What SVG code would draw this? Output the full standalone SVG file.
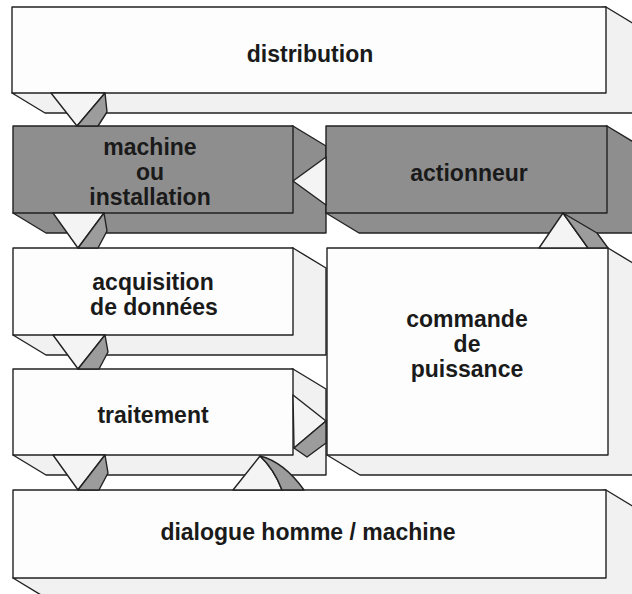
<svg xmlns="http://www.w3.org/2000/svg" width="632" height="594" viewBox="0 0 632 594">
<style>
.ln{stroke:#222;stroke-width:1.4;stroke-linejoin:round}
.front{fill:#fdfdfd}
.shw{fill:#f1f1f1}
.gfront{fill:#8e8e8e}
.gshw{fill:#8e8e8e}
.tri{fill:#f4f4f4}
.facet{fill:#9c9c9c}
text{font-family:"Liberation Sans",Arial,Helvetica,sans-serif;font-weight:bold;font-size:23px;fill:#1a1a1a;text-anchor:middle}
</style>
<rect width="632" height="594" fill="#ffffff"/>
<g id="distribution">
<polygon class="shw ln" points="12,93 45,113 639,113 639,27 606,7"/>
<rect class="front ln" x="12" y="7" width="594" height="86"/>
<text x="310" y="62">distribution</text>
</g>
<g id="machine">
<polygon class="gshw ln" points="13,213 46,233 326,233 326,146 293,126"/>
<rect class="gfront ln" x="13" y="126" width="280" height="87"/>
<text x="150" y="155">machine</text>
<text x="150" y="180">ou</text>
<text x="150" y="205">installation</text>
</g>
<g id="actionneur">
<polygon class="gshw ln" points="326,213 359,233 640,233 640,146 607,126"/>
<rect class="gfront ln" x="326" y="126" width="281" height="87"/>
<text x="469" y="181">actionneur</text>
</g>
<g id="acquisition">
<polygon class="shw ln" points="13,335 46,355 326,355 326,268 293,248"/>
<rect class="front ln" x="13" y="248" width="280" height="87"/>
<text x="153" y="290">acquisition</text>
<text x="154" y="315">de données</text>
</g>
<g id="commande">
<polygon class="shw ln" points="327,455 360,475 641,475 641,268 608,248"/>
<rect class="front ln" x="327" y="248" width="281" height="207"/>
<text x="467" y="327">commande</text>
<text x="467" y="352">de</text>
<text x="467" y="377">puissance</text>
</g>
<g id="traitement">
<polygon class="shw ln" points="13,455 46,475 326,475 326,389 293,369"/>
<rect class="front ln" x="13" y="369" width="280" height="86"/>
<text x="153" y="423">traitement</text>
</g>
<g id="dialogue">
<polygon class="shw ln" points="13,578 46,598 639,598 639,510 606,490"/>
<rect class="front ln" x="13" y="490" width="593" height="88"/>
<text x="308" y="540">dialogue homme / machine</text>
</g>
<g id="connectors">
<polygon class="tri ln" points="51,93 105,93 77,126"/>
<polygon class="facet ln" points="105,93 107,112 98,126 77,126"/>
<polygon class="tri ln" points="53,213 104,213 78,248"/>
<polygon class="facet ln" points="104,213 107,231 98,248 78,248"/>
<polygon class="tri ln" points="53,335 105,335 78,369"/>
<polygon class="facet ln" points="105,335 108,352 99,369 78,369"/>
<polygon class="tri ln" points="53,455 105,455 78,490"/>
<polygon class="facet ln" points="105,455 108,473 99,490 78,490"/>
<path class="tri ln" d="M260,456 L233,490 L282,490 Q274,469 260,456 Z"/>
<path class="facet ln" d="M260,456 Q284,462 304,490 L282,490 Q274,469 260,456 Z"/>
<polygon class="tri ln" points="563,213 539,248 588,248"/>
<polygon class="facet ln" points="563,213 597,233 608,248 588,248"/>
<polygon class="tri ln" points="293,181 326,157 326,205"/>
<polygon class="tri ln" points="293,395 326,421 294,448"/>
<polygon class="facet ln" points="294,448 326,421 326,443 307,457"/>
</g>
</svg>
